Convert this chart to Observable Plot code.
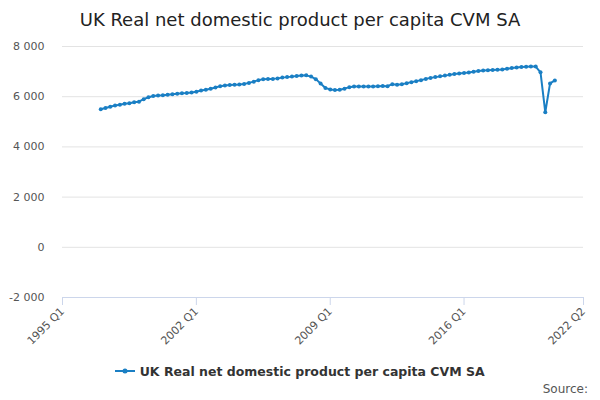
<!DOCTYPE html>
<html><head><meta charset="utf-8">
<script src="https://cdn.jsdelivr.net/npm/d3@7"></script>
<script src="https://cdn.jsdelivr.net/npm/@observablehq/plot@0.6"></script>
<style>
body{margin:0;width:600px;height:400px;font-family:"DejaVu Sans",sans-serif;background:#fff;position:relative}
#title{text-align:center;font-size:18px;color:#222;padding-top:9px;height:27px}
#legend{position:absolute;top:364px;left:0;width:600px;text-align:center;font-size:12.5px;font-weight:bold;color:#333}
#src{position:absolute;top:382px;right:12px;font-size:12px;color:#555}
</style></head><body>
<div id="title">UK Real net domestic product per capita CVM SA</div>
<div id="chart"></div>
<div id="legend"><svg width="20" height="10"><line x1="0" y1="5" x2="20" y2="5" stroke="#1a7fc4" stroke-width="2"/><circle cx="10" cy="5" r="2.5" fill="#1a7fc4"/></svg> UK Real net domestic product per capita CVM SA</div>
<div id="src">Source:</div>
<script>
const startYear = 1997;
const values = [
5500,5550,5600,5650, 5680,5720,5740,5780, 5800,5900,5980,6030, 6050,6060,6080,6100,
6120,6140,6150,6170, 6200,6250,6280,6320, 6370,6420,6450,6470, 6480,6490,6510,6550,
6600,6660,6700,6710, 6710,6730,6760,6780, 6800,6820,6840,6850, 6800,6700,6530,6350,
6290,6270,6280,6320, 6380,6410,6410,6410, 6410,6410,6420,6430, 6420,6500,6480,6500,
6540,6580,6620,6660, 6710,6750,6780,6810, 6840,6870,6900,6920, 6940,6960,6990,7020,
7040,7050,7060,7070, 7080,7110,7140,7160, 7180,7190,7200,7200, 6970,5380,6530,6650];
const tickDates = [new Date(1995,0,1),new Date(2002,0,1),new Date(2009,0,1),new Date(2016,0,1),new Date(2022,3,1)];
const tickLabels = ["1995 Q1","2002 Q1","2009 Q1","2016 Q1","2022 Q2"];
const yTicks = [-2000,0,2000,4000,6000,8000];
const data = values.map((v,i)=>({date:new Date(startYear+Math.floor(i/4),(i%4)*3,1),value:v}));
const fmt = d=>(d<0?"-":"")+d3.format(",")(Math.abs(d)).replace(/,/g," ");
const color="#1a7fc4";
const chart = Plot.plot({
  width:600,height:330,marginTop:10,marginLeft:62,marginRight:17,marginBottom:69,
  style:{fontFamily:"DejaVu Sans",fontSize:"11px",color:"#555"},
  x:{type:"time",domain:[tickDates[0],tickDates[4]]},
  y:{domain:[-2000,8000]},
  marks:[
    Plot.gridY(yTicks,{stroke:"#e3e3e3",strokeOpacity:1}),
    Plot.ruleY([-2000],{stroke:"#ccd6eb"}),
    Plot.axisY(yTicks,{tickFormat:fmt,tickSize:0,tickPadding:18,fontSize:11,label:null}),
    Plot.axisX(tickDates,{tickFormat:(d,i)=>tickLabels[i],tickRotate:-45,tickSize:8,stroke:"#ccd6eb",fontSize:11,textAnchor:"end",tickPadding:4,label:null}),
    Plot.line(data,{x:"date",y:"value",stroke:color,strokeWidth:2}),
    Plot.dot(data,{x:"date",y:"value",fill:color,r:2})
  ]
});
document.getElementById("chart").append(chart);
</script></body></html>
